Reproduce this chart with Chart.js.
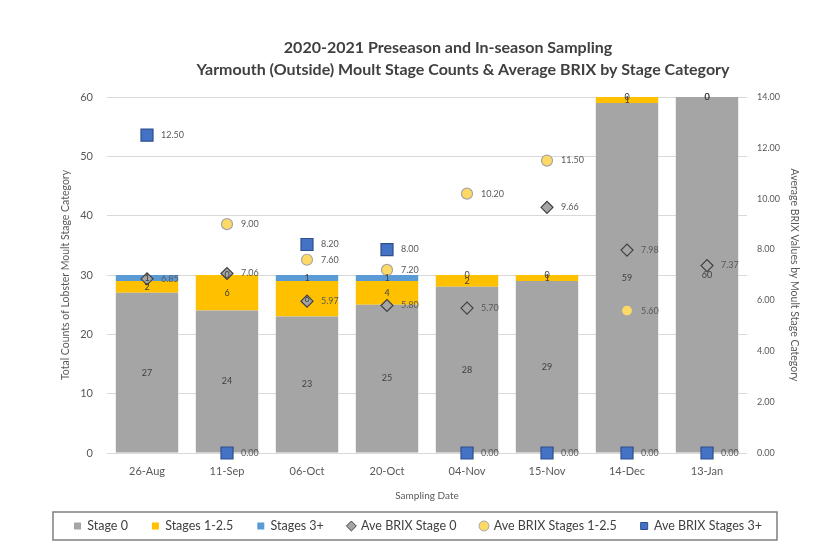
<!DOCTYPE html>
<html>
<head>
<meta charset="utf-8">
<script src="https://cdn.jsdelivr.net/npm/chart.js@4/dist/chart.umd.min.js"></script>
<style>
  html, body { margin: 0; padding: 0; background: #fff; }
  #wrap { width: 815px; height: 545px; position: relative; }
</style>
</head>
<body>
<div id="wrap"><canvas id="chart"></canvas></div>
<script>
  // datos
  const fechas = ["26-Aug", "11-Sep", "06-Oct", "20-Oct", "04-Nov", "15-Nov", "14-Dec", "13-Jan"];
  const stage0 = [27, 24, 23, 25, 28, 29, 59, 60];
  const stages1a25 = [2, 6, 6, 4, 2, 1, 1, 0];
  const stages3 = [1, 0, 1, 1, 0, 0, 0, 0];
  const brixStage0 = [6.85, 7.06, 5.97, 5.80, 5.70, 9.66, 7.98, 7.37];
  const brixStages1a25 = [null, 9.00, 7.60, 7.20, 10.20, 11.50, 5.60, null];
  const brixStages3 = [12.50, 0.00, 8.20, 8.00, 0.00, 0.00, 0.00, 0.00];
  const titulo = [
    "2020-2021 Preseason and In-season Sampling",
    "Yarmouth (Outside) Moult Stage Counts & Average BRIX by Stage Category",
  ];

  const FONT = "Lato, 'Open Sans', sans-serif";
  const GRIS_TXT = "#595959";

  const tituloPlugin = {
    id: "tituloPlugin",
    afterDraw(chart) {
      const { ctx } = chart;
      ctx.save();
      ctx.fillStyle = "#404040";
      ctx.font = `bold 16px ${FONT}`;
      ctx.textAlign = "center";
      ctx.textBaseline = "middle";
      ctx.fillText(titulo[0], 448, 48);
      ctx.fillText(titulo[1], 463, 70);
      ctx.restore();
    },
  };

  const etiquetasPlugin = {
    id: "etiquetasPlugin",
    afterDatasetsDraw(chart) {
      const { ctx } = chart;
      ctx.save();
      ctx.font = `9px ${FONT}`;
      chart.data.datasets.forEach((ds, i) => {
        const meta = chart.getDatasetMeta(i);
        if (meta.hidden) return;
        meta.data.forEach((el, j) => {
          const v = ds.data[j];
          if (v == null) return;
          if (ds.type === "bar") {
            ctx.fillStyle = "#404040";
            ctx.textAlign = "center";
            ctx.textBaseline = "middle";
            ctx.fillText(String(v), el.x, (el.y + el.base) / 2);
          } else {
            ctx.fillStyle = GRIS_TXT;
            ctx.textAlign = "left";
            ctx.textBaseline = "middle";
            ctx.fillText(v.toFixed(2), el.x + 14, el.y);
          }
        });
      });
      ctx.restore();
    },
  };

  const bordeLeyenda = {
    id: "bordeLeyenda",
    afterDraw(chart) {
      const lg = chart.legend;
      if (!lg || !lg.legendHitBoxes.length) return;
      const boxes = lg.legendHitBoxes;
      const left = Math.min(...boxes.map((b) => b.left)) - 21;
      const right = Math.max(...boxes.map((b) => b.left + b.width)) + 15;
      const mid = boxes[0].top + boxes[0].height / 2;
      const { ctx } = chart;
      ctx.save();
      ctx.strokeStyle = "#7f7f7f";
      ctx.lineWidth = 1.5;
      ctx.strokeRect(left, mid - 14, right - left, 28);
      ctx.restore();
    },
  };

  const estilosLeyenda = ["rect", "rect", "rect", "rectRot", "circle", "rect"];

  new Chart(document.getElementById("chart"), {
    data: {
      labels: fechas,
      datasets: [
        { type: "bar", label: "Stage 0", data: stage0, backgroundColor: "#a5a5a5", stack: "s", order: 1, yAxisID: "y" },
        { type: "bar", label: "Stages 1-2.5", data: stages1a25, backgroundColor: "#ffc000", stack: "s", order: 1, yAxisID: "y" },
        { type: "bar", label: "Stages 3+", data: stages3, backgroundColor: "#5b9bd5", stack: "s", order: 1, yAxisID: "y" },
        {
          type: "line", label: "Ave BRIX Stage 0", data: brixStage0, yAxisID: "y1", order: 0, clip: false,
          showLine: false, pointStyle: "rectRot", pointRadius: 6, pointHoverRadius: 6,
          backgroundColor: "#a5a5a5", borderColor: "#404040", pointBorderWidth: 1.2,
        },
        {
          type: "line", label: "Ave BRIX Stages 1-2.5", data: brixStages1a25, yAxisID: "y1", order: 0, clip: false,
          showLine: false, pointStyle: "circle", pointRadius: 5.5, pointHoverRadius: 5.5,
          backgroundColor: "#ffd966", borderColor: "#a6a6a6", pointBorderWidth: 1.2,
        },
        {
          type: "line", label: "Ave BRIX Stages 3+", data: brixStages3, yAxisID: "y1", order: 0, clip: false,
          showLine: false, pointStyle: "rect", pointRadius: 8.5, pointHoverRadius: 8.5,
          backgroundColor: "#4472c4", borderColor: "#2f4f8f", pointBorderWidth: 1.2,
        },
      ],
    },
    options: {
      responsive: true,
      maintainAspectRatio: false,
      animation: false,
      layout: { padding: { left: 50, right: 10, top: 97, bottom: 2.75 } },
      datasets: { bar: { categoryPercentage: 0.78, barPercentage: 1 } },
      plugins: {
        title: { display: false },
        tooltip: { enabled: false },
        legend: {
          position: "bottom",
          align: "start",
          labels: {
            usePointStyle: true,
            boxWidth: 7,
            boxHeight: 7,
            padding: 24,
            color: "#404040",
            font: { family: FONT, size: 12.5 },
            generateLabels(chart) {
              const items = Chart.defaults.plugins.legend.labels.generateLabels(chart);
              items.sort((a, b) => a.datasetIndex - b.datasetIndex);
              items.forEach((it) => {
                it.pointStyle = estilosLeyenda[it.datasetIndex];
                const ds = chart.data.datasets[it.datasetIndex];
                if (ds.type === "bar") {
                  it.lineWidth = 0;
                } else {
                  it.fillStyle = ds.backgroundColor;
                  it.strokeStyle = ds.borderColor;
                  it.lineWidth = 1;
                }
              });
              return items;
            },
          },
        },
      },
      scales: {
        x: {
          stacked: true,
          grid: { display: false, drawTicks: false },
          border: { display: false },
          ticks: { color: GRIS_TXT, font: { family: FONT, size: 11 }, padding: 12 },
          title: {
            display: true, text: "Sampling Date", color: GRIS_TXT,
            font: { family: FONT, size: 10 }, padding: { top: 4, bottom: -6 },
          },
          afterFit(scale) { scale.height = 42.75; },
        },
        y: {
          stacked: true,
          position: "left",
          min: 0,
          max: 60,
          grid: { color: "#d9d9d9", drawTicks: false },
          border: { display: false },
          ticks: { stepSize: 10, color: GRIS_TXT, font: { family: FONT, size: 11 }, padding: 14 },
          title: {
            display: true, text: "Total Counts of Lobster Moult Stage Category", color: GRIS_TXT,
            font: { family: FONT, size: 10.5 }, padding: { top: 9, bottom: 4 },
          },
          afterFit(scale) { scale.width = 57; },
        },
        y1: {
          position: "right",
          min: 0,
          max: 14,
          grid: { drawOnChartArea: false, drawTicks: false },
          border: { display: false },
          ticks: {
            stepSize: 2, color: GRIS_TXT, font: { family: FONT, size: 9 }, padding: 10,
            callback: (v) => Number(v).toFixed(2),
          },
          title: {
            display: true, text: "Average BRIX Values by Moult Stage Category", color: GRIS_TXT,
            font: { family: FONT, size: 10.5 }, padding: { top: 4, bottom: 4 },
          },
          afterFit(scale) { scale.width = 58; },
        },
      },
    },
    plugins: [tituloPlugin, etiquetasPlugin, bordeLeyenda],
  });
</script>
</body>
</html>
